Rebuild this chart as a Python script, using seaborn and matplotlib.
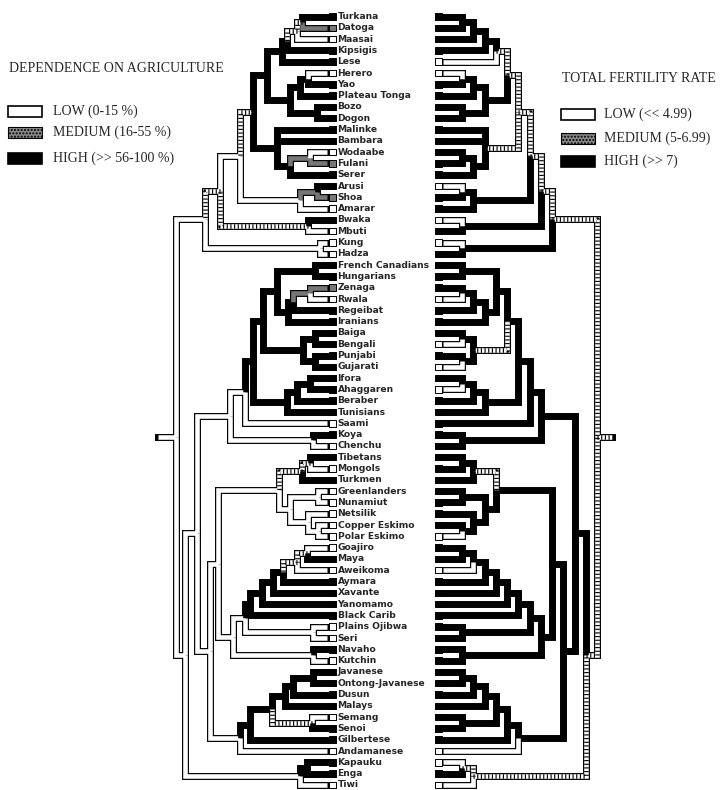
# Tip states traced on a tree: agriculture (left) and fertility (right)

import numpy as np
import pandas as pd
import matplotlib
matplotlib.use('Agg')
import matplotlib.pyplot as plt
from matplotlib.patches import Rectangle
import seaborn as sns

sns.set_theme(style='white')
plt.rcParams['font.family'] = ['DejaVu Sans']

# populations, top to bottom
taxa = ['Turkana', 'Datoga', 'Maasai', 'Kipsigis', 'Lese', 'Herero', 'Yao', 'Plateau Tonga', 'Bozo', 'Dogon',
        'Malinke', 'Bambara', 'Wodaabe', 'Fulani', 'Serer', 'Arusi', 'Shoa', 'Amarar', 'Bwaka', 'Mbuti',
        'Kung', 'Hadza', 'French Canadians', 'Hungarians', 'Zenaga', 'Rwala', 'Regeibat', 'Iranians', 'Baiga',
        'Bengali', 'Punjabi', 'Gujarati', 'Ifora', 'Ahaggaren', 'Beraber', 'Tunisians', 'Saami', 'Koya',
        'Chenchu', 'Tibetans', 'Mongols', 'Turkmen', 'Greenlanders', 'Nunamiut', 'Netsilik', 'Copper Eskimo',
        'Polar Eskimo', 'Goajiro', 'Maya', 'Aweikoma', 'Aymara', 'Xavante', 'Yanomamo', 'Black Carib',
        'Plains Ojibwa', 'Seri', 'Navaho', 'Kutchin', 'Javanese', 'Ontong-Javanese', 'Dusun', 'Malays',
        'Semang', 'Senoi', 'Gilbertese', 'Andamanese', 'Kapauku', 'Enga', 'Tiwi']

# L = low, M = medium, H = high
agriculture = list('HMLHHLHHHHHHLMHHMLHLLL' 'HHMLHHHHHHHHHHLHL' 'HLHLLLLL' 'LHLHHHHLLHL' 'HHHHLHHLHHL')
fertility = list('HHHHLLHHHHHHHHHLHHLHLH' 'HHHLHHHLHLHLHHHHH' 'HHHHHHHL' 'HHLHHHHHHHH' 'HHHHHHHLLHL')

# states shown on some deep branches (several letters = equivocal)
agri_nodes = {'ROOT': 'L', 'NONAF': 'L', 'AF': 'L', 'T1234': 'L', 'T123': 'LH', 'SS': 'LH'}
fert_nodes = {'ROOT': 'LH', 'NONAF': 'LH', 'OC': 'LH', 'AF': 'LH', 'T12345': 'LH', 'T1234': 'LH',
              'T123': 'LH', 'T12': 'LH', 'T1': 'LH', 'T3': 'LH', 'IN': 'LH', 'C1': 'LH'}

# clades (newick, internal label = [name:]node height of the left tree)
africa = ('(((((((((Turkana,Datoga)26,Maasai)31,Kipsigis)41,Lese)T1:46,'
          '(((Herero,Yao)20,Plateau Tonga)28,(Bozo,Dogon)11)T2:38)T12:61,'
          '(Malinke,Bambara,((Wodaabe,Fulani)18,Serer)38)T3:51)T123:75,'
          '((Arusi,Shoa)11,Amarar)T4:28)T1234:88,(Bwaka,Mbuti)BM:20)T12345:108,(Kung,Hadza)KH:8)AF:123')
eurasia = ('((((((French Canadians,Hungarians)13,(((Zenaga,Rwala)18,Regeibat)35,Iranians)40)51,'
           '((Baiga,Bengali)13,(Punjabi,Gujarati)13)IN:25)65,'
           '(((Ifora,Ahaggaren)18,Beraber)31,Tunisians)41)75,Saami)83,(Koya,Chenchu)15)EU:98')
north_asia = ('(((Tibetans,Mongols)18,Turkmen)C1:26,((Greenlanders,Nunamiut)10,'
              '(Netsilik,(Copper Eskimo,Polar Eskimo)10)20)38)49')
america = ('((((((((Goajiro,Maya)21,Aweikoma)31,Aymara)45,Xavante)55,Yanomamo)66,Black Carib)78,'
           '(Plains Ojibwa,Seri)15)83,(Navaho,Kutchin)15)95')
se_asia = ('((((((Javanese,Ontong-Javanese)15,Dusun)35,Malays)43,(Semang,Senoi)SS:16)56,Gilbertese)78,'
           'Andamanese)88')
oceania = '((Kapauku,Enga)21,Tiwi)OC:28'
newick = ('(' + africa + ',((' + eurasia + ',((' + north_asia + ',' + america + ')110,' + se_asia + ')118)131,'
          + oceania + ')NONAF:143)ROOT:152')

STATES = ['L', 'M', 'H']
FILL = {'L': 'white', 'M': '#777777', 'H': 'black'}


def parse_tree(text):
    pos = 0

    def read():
        nonlocal pos
        if text[pos] == '(':
            pos += 1
            kids = [read()]
            while text[pos] == ',':
                pos += 1
                kids.append(read())
            pos += 1
            start = pos
            while pos < len(text) and text[pos] not in ',)':
                pos += 1
            label = text[start:pos]
            node = {'kids': kids, 'h': float(label.split(':')[-1])}
            if ':' in label:
                node['clade'] = label.split(':')[0]
            return node
        start = pos
        while text[pos] not in ',)':
            pos += 1
        return {'kids': [], 'name': text[start:pos], 'h': 0.0}
    return read()


def layout(n, rows):
    if not n['kids']:
        n['y'] = rows[n['name']]
        n['lev'] = 0
        return
    for k in n['kids']:
        layout(k, rows)
    n['y'] = (n['kids'][0]['y'] + n['kids'][-1]['y']) / 2
    n['lev'] = 1 + max(k['lev'] for k in n['kids'])


# ordered parsimony, keeping every state found in some best reconstruction
cost = np.abs(np.subtract.outer(np.arange(3), np.arange(3))).astype(float)


def down(n, tips):
    if not n['kids']:
        d = np.full(3, np.inf)
        d[STATES.index(tips[n['name']])] = 0
    else:
        d = np.zeros(3)
        for k in n['kids']:
            down(k, tips)
            d += np.min(k['D'][None, :] + cost, axis=1)
    n['D'] = d


def up(n, full, char, shown):
    given = shown.get(n.get('clade'))
    if given:
        full = np.where([s in given for s in STATES], full, np.inf)
        n.setdefault('set', {})[char] = list(given)
    else:
        n.setdefault('set', {})[char] = [STATES[i] for i in np.where(full <= full.min() + 1e-9)[0]]
    for k in n['kids']:
        rest = full - np.min(k['D'][None, :] + cost, axis=1)
        up(k, k['D'] + np.min(rest[:, None] + cost, axis=0), char, shown)


def draw_tree(ax, root, xkey, char, tip_end, stub):
    segs = []

    def walk(n):
        for k in n['kids']:
            x0 = tip_end if not k['kids'] else k[xkey]
            segs.append(([x0, n[xkey], n[xkey]], [k['y'], k['y'], n['y']], k['set'][char]))
            walk(k)
    walk(root)
    segs.append(([root[xkey], root[xkey] + stub], [root['y'], root['y']], root['set'][char]))
    for xs, ys, st in segs:
        ax.plot(xs, ys, color='black', lw=5.0, solid_joinstyle='miter', solid_capstyle='projecting', zorder=1)
    for xs, ys, st in segs:
        if len(st) == 1:
            ax.plot(xs, ys, color=FILL[st[0]], lw=3.3, solid_joinstyle='miter', solid_capstyle='butt', zorder=2)
        else:
            ax.plot(xs, ys, color='white', lw=3.3, solid_joinstyle='miter', solid_capstyle='butt', zorder=2)
            ax.plot(xs, ys, color='black', lw=3.3, dashes=(0.25, 0.55), solid_joinstyle='miter', zorder=3)


tree = parse_tree(newick)
rows = {name: i for i, name in enumerate(taxa)}
layout(tree, rows)
for char, vals, shown in [('agri', agriculture, agri_nodes), ('fert', fertility, fert_nodes)]:
    tips = dict(zip(taxa, vals))
    down(tree, tips)
    up(tree, tree['D'], char, shown)

fig = plt.figure(figsize=(7.23, 7.90), dpi=100)
ylim = ((790 - 16.5) / 11.3, -16.5 / 11.3)

# left tree: x in node height units
axl = fig.add_axes([150 / 723, 0, 250 / 723, 1])
axl.set_xlim(178, -72)
axl.set_ylim(*ylim)
axl.axis('off')
draw_tree(axl, tree, 'h', 'agri', 1, 18)
df = pd.DataFrame({'taxon': taxa, 'row': range(len(taxa)), 'agri': agriculture, 'fert': fertility})
df['xl'] = -4.5
sns.scatterplot(data=df, x='xl', y='row', hue='agri', palette=FILL, marker='s', s=22,
                edgecolor='black', linewidth=0.7, legend=False, ax=axl, zorder=5)
for name, r in zip(taxa, range(len(taxa))):
    axl.text(-9.5, r, name, fontsize=6.6, fontweight='bold', va='center', ha='left', clip_on=False)

# right tree: x in branching levels
axr = fig.add_axes([425 / 723, 0, 298 / 723, 1])
axr.set_xlim((425 - 450.75) / 11.25, (723 - 450.75) / 11.25)
axr.set_ylim(*ylim)
axr.axis('off')
draw_tree(axr, tree, 'lev', 'fert', -0.69, 1.35)
df['xr'] = -1.09
sns.scatterplot(data=df, x='xr', y='row', hue='fert', palette=FILL, marker='s', s=22,
                edgecolor='black', linewidth=0.7, legend=False, ax=axr, zorder=5)

# legends
lax = fig.add_axes([0, 0, 1, 1], zorder=-1)
lax.set_xlim(0, 723)
lax.set_ylim(790, 0)
lax.axis('off')
serif = ['Liberation Serif', 'DejaVu Serif']


def legend(x0, y0, title, labels, box_x, lab_x, ys):
    lax.text(x0, y0, title, fontsize=10, family=serif, va='center', ha='left')
    for lab, y, st in zip(labels, ys, STATES):
        if st == 'M':
            lax.add_patch(Rectangle((box_x, y - 5), 34, 11, facecolor='#8a8a8a', edgecolor='black',
                                    hatch='.....', lw=0.8))
        else:
            lax.add_patch(Rectangle((box_x, y - 5), 34, 11, facecolor=FILL[st], edgecolor='black', lw=1.2))
        lax.text(lab_x, y, lab, fontsize=10, family=serif, va='center', ha='left')


legend(9, 68, 'DEPENDENCE ON AGRICULTURE', ['LOW (0-15 %)', 'MEDIUM (16-55 %)', 'HIGH (>> 56-100 %)'],
       8, 53, [111, 132, 158])
legend(562, 78, 'TOTAL FERTILITY RATE', ['LOW (<< 4.99)', 'MEDIUM (5-6.99)', 'HIGH (>> 7)'],
       561, 604, [114, 138, 161])

fig.savefig('out.png', dpi=100, facecolor='white')
